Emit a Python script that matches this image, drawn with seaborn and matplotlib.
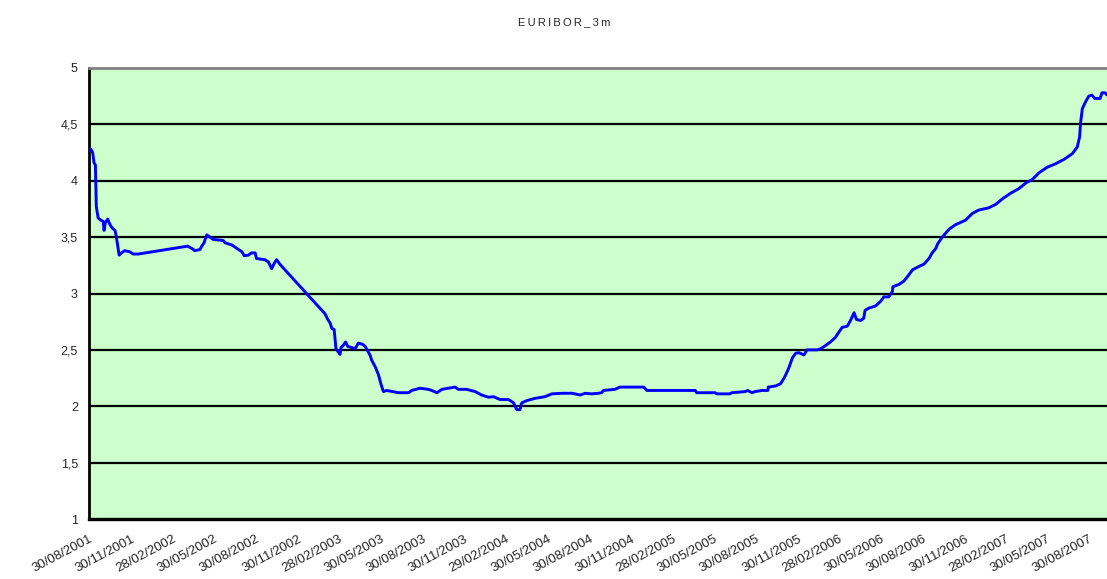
import pandas as pd
import seaborn as sns
import matplotlib.pyplot as plt

# EURIBOR 3m, values
dates = ['30/08/2001', '03/09/2001', '07/09/2001', '10/09/2001', '13/09/2001', '15/09/2001',
         '19/09/2001', '25/09/2001', '30/09/2001', '02/10/2001', '05/10/2001', '10/10/2001',
         '15/10/2001', '20/10/2001', '26/10/2001', '29/10/2001', '04/11/2001', '09/11/2001',
         '16/11/2001', '27/11/2001', '05/12/2001', '16/12/2001', '03/04/2002', '12/04/2002',
         '19/04/2002', '30/04/2002', '04/05/2002', '09/05/2002', '15/05/2002', '22/05/2002',
         '29/05/2002', '20/06/2002', '24/06/2002', '09/07/2002', '20/07/2002', '31/07/2002',
         '05/08/2002', '14/08/2002', '21/08/2002', '29/08/2002', '01/09/2002', '19/09/2002',
         '27/09/2002', '04/10/2002', '10/10/2002', '15/10/2002', '22/10/2002', '29/01/2003',
         '04/02/2003', '09/02/2003', '13/02/2003', '18/02/2003', '22/02/2003', '03/03/2003',
         '05/03/2003', '10/03/2003', '15/03/2003', '20/03/2003', '29/03/2003', '05/04/2003',
         '12/04/2003', '21/04/2003', '27/04/2003', '04/05/2003', '08/05/2003', '11/05/2003',
         '19/05/2003', '26/05/2003', '01/06/2003', '06/06/2003', '13/06/2003', '09/07/2003',
         '31/07/2003', '07/08/2003', '25/08/2003', '12/09/2003', '20/09/2003', '01/10/2003',
         '12/10/2003', '26/10/2003', '10/11/2003', '17/11/2003', '05/12/2003', '24/12/2003',
         '07/01/2004', '22/01/2004', '02/02/2004', '16/02/2004', '06/03/2004', '17/03/2004',
         '24/03/2004', '31/03/2004', '04/04/2004', '15/04/2004', '03/05/2004', '25/05/2004',
         '09/06/2004', '01/07/2004', '23/07/2004', '10/08/2004', '21/08/2004', '04/09/2004',
         '19/09/2004', '26/09/2004', '30/09/2004', '25/10/2004', '05/11/2004', '27/12/2004',
         '03/01/2005', '19/04/2005', '22/04/2005', '02/06/2005', '05/06/2005', '04/07/2005',
         '08/07/2005', '06/08/2005', '12/08/2005', '21/08/2005', '28/08/2005', '12/09/2005',
         '25/09/2005', '26/09/2005', '12/10/2005', '23/10/2005', '01/11/2005', '09/11/2005',
         '18/11/2005', '25/11/2005', '02/12/2005', '13/12/2005', '20/12/2005', '11/01/2006',
         '19/01/2006', '30/01/2006', '09/02/2006', '20/02/2006', '28/02/2006', '07/03/2006',
         '18/03/2006', '25/03/2006', '02/04/2006', '07/04/2006', '16/04/2006', '23/04/2006',
         '26/04/2006', '04/05/2006', '19/05/2006', '30/05/2006', '06/06/2006', '17/06/2006',
         '25/06/2006', '26/06/2006', '09/07/2006', '20/07/2006', '28/07/2006', '08/08/2006',
         '22/08/2006', '02/09/2006', '13/09/2006', '20/09/2006', '28/09/2006', '02/10/2006',
         '12/10/2006', '27/10/2006', '10/11/2006', '02/12/2006', '17/12/2006', '31/12/2006',
         '22/01/2007', '06/02/2007', '21/02/2007', '11/03/2007', '29/03/2007', '13/04/2007',
         '27/04/2007', '12/05/2007', '30/05/2007', '17/06/2007', '06/07/2007', '24/07/2007',
         '04/08/2007', '09/08/2007', '11/08/2007', '15/08/2007', '22/08/2007', '29/08/2007',
         '05/09/2007', '11/09/2007', '23/09/2007', '27/09/2007', '04/10/2007', '08/10/2007']
rates = [4.27, 4.28, 4.25, 4.16, 4.14, 3.77,
         3.67, 3.65, 3.64, 3.56, 3.63, 3.66,
         3.61, 3.58, 3.56, 3.50, 3.34, 3.36,
         3.38, 3.37, 3.35, 3.35, 3.42, 3.40,
         3.38, 3.39, 3.42, 3.45, 3.52, 3.50,
         3.48, 3.47, 3.45, 3.43, 3.40, 3.37,
         3.335, 3.34, 3.36, 3.36, 3.31, 3.30,
         3.28, 3.22, 3.27, 3.30, 3.26, 2.82,
         2.77, 2.74, 2.69, 2.68, 2.51, 2.46,
         2.52, 2.54, 2.57, 2.53, 2.52, 2.51,
         2.56, 2.55, 2.53, 2.48, 2.45, 2.41,
         2.35, 2.28, 2.19, 2.13, 2.14, 2.12,
         2.12, 2.14, 2.16, 2.15, 2.14, 2.12,
         2.15, 2.16, 2.17, 2.15, 2.15, 2.13,
         2.10, 2.08, 2.085, 2.06, 2.06, 2.03,
         1.97, 1.97, 2.03, 2.05, 2.07, 2.085,
         2.11, 2.115, 2.115, 2.10, 2.115, 2.11,
         2.115, 2.12, 2.14, 2.15, 2.17, 2.17,
         2.14, 2.14, 2.12, 2.12, 2.11, 2.11,
         2.12, 2.13, 2.14, 2.12, 2.13, 2.14,
         2.14, 2.17, 2.18, 2.20, 2.26, 2.33,
         2.43, 2.47, 2.475, 2.455, 2.50, 2.50,
         2.51, 2.54, 2.57, 2.61, 2.66, 2.70,
         2.71, 2.76, 2.83, 2.77, 2.76, 2.78,
         2.85, 2.87, 2.89, 2.93, 2.97, 2.97,
         3.02, 3.06, 3.08, 3.11, 3.15, 3.21,
         3.24, 3.26, 3.31, 3.36, 3.40, 3.44,
         3.50, 3.57, 3.61, 3.65, 3.71, 3.74,
         3.76, 3.79, 3.84, 3.89, 3.93, 3.98,
         4.01, 4.07, 4.12, 4.15, 4.19, 4.24,
         4.30, 4.39, 4.51, 4.64, 4.70, 4.75,
         4.76, 4.73, 4.73, 4.78, 4.78, 4.76]

tick_labels = ['30/08/2001', '30/11/2001', '28/02/2002', '30/05/2002', '30/08/2002', '30/11/2002',
               '28/02/2003', '30/05/2003', '30/08/2003', '30/11/2003', '29/02/2004', '30/05/2004',
               '30/08/2004', '30/11/2004', '28/02/2005', '30/05/2005', '30/08/2005', '30/11/2005',
               '28/02/2006', '30/05/2006', '30/08/2006', '30/11/2006', '28/02/2007', '30/05/2007',
               '30/08/2007']
y_ticks = [1, 1.5, 2, 2.5, 3, 3.5, 4, 4.5, 5]
y_tick_labels = ['1', '1,5', '2', '2,5', '3', '3,5', '4', '4,5', '5']

df = pd.DataFrame({'date': pd.to_datetime(dates, format='%d/%m/%Y'), 'rate': rates})
tick_dates = pd.to_datetime(tick_labels, format='%d/%m/%Y')

sns.set_style("white")
plt.rcParams['font.family'] = ['Liberation Sans', 'DejaVu Sans']

fig = plt.figure(figsize=(11.07, 5.79), dpi=100)
ax = fig.add_axes([89 / 1107, 1 - 519 / 579, 1018 / 1107, 451 / 579])
ax.set_facecolor('#ccffcc')

for y in y_ticks[1:-1]:
    ax.axhline(y, color='black', lw=1.6, zorder=1)

sns.lineplot(data=df, x='date', y='rate', ax=ax, color='#0000ff', lw=2.1, zorder=3)

ax.set_ylim(1, 5)
ax.set_xlim(pd.Timestamp('2001-08-30'), pd.Timestamp('2007-10-08'))
ax.set_yticks(y_ticks)
ax.set_yticklabels(y_tick_labels, fontsize=9)
ax.set_xticks(tick_dates)
ax.set_xticklabels(tick_labels, fontsize=9.5, rotation=28, ha='right', rotation_mode='anchor')
ax.tick_params(axis='both', direction='out', length=5, width=1.5, color='black', pad=3)
ax.tick_params(axis='x', pad=5)
ax.set_xlabel('')
ax.set_ylabel('')

ax.spines['left'].set_color('black')
ax.spines['left'].set_linewidth(2)
ax.spines['bottom'].set_color('black')
ax.spines['bottom'].set_linewidth(2.4)
ax.spines['top'].set_color('#808080')
ax.spines['top'].set_linewidth(2)
ax.spines['right'].set_visible(False)

fig.text(564 / 1107, 1 - 22 / 579, '\u2009'.join('EURIBOR_3m'), ha='center', va='center', fontsize=8)

fig.savefig('out.png', dpi=100)
